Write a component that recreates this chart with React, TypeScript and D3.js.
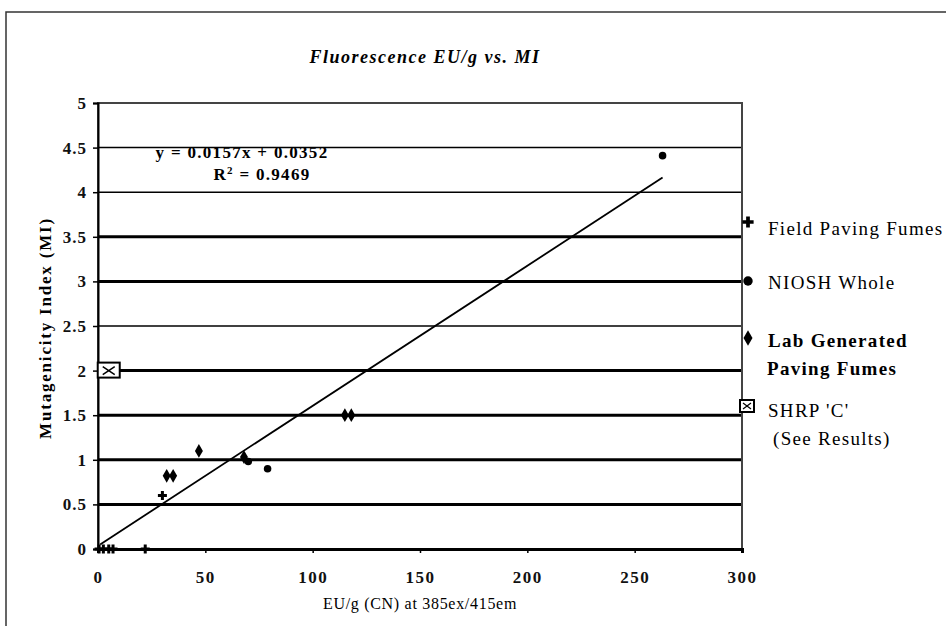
import React, { useEffect, useRef } from "react";
import * as d3 from "d3";

// values
const fieldX = [0.5, 2.5, 5, 7, 22, 30];
const fieldY = [0, 0, 0, 0, 0, 0.6];
const nioshX = [263, 79, 70];
const nioshY = [4.41, 0.9, 0.98];
const labX = [47, 32, 35, 68, 115, 118];
const labY = [1.1, 0.82, 0.82, 1.03, 1.5, 1.5];
const shrpX = [5];
const shrpY = [2];
const slope = 0.0157;
const intercept = 0.0352;
const trendRange = [1, 263];
const yTicks = [0, 0.5, 1, 1.5, 2, 2.5, 3, 3.5, 4, 4.5, 5];
const xTicks = [0, 50, 100, 150, 200, 250, 300];
const thinLines = [2.5, 4, 4.5];
const legendLabels = [
  ["Field Paving Fumes"],
  ["NIOSH Whole"],
  ["Lab Generated", "Paving Fumes"],
  ["SHRP 'C'", "(See Results)"],
];

const W = 946;
const H = 626;
const FONT = "'Liberation Serif', 'DejaVu Serif', serif";

const App = () => {
  const ref = useRef<SVGSVGElement>(null);

  useEffect(() => {
    const svg = d3.select(ref.current);
    svg.selectAll("*").remove();

    const left = 98, right = 742, top = 103, bottom = 549;
    const x = d3.scaleLinear().domain([0, 300]).range([left, right]);
    const y = d3.scaleLinear().domain([0, 5]).range([bottom, top]);

    svg.append("rect").attr("width", W).attr("height", H).attr("fill", "#fff");
    // outer chart frame (runs off the right/bottom edge)
    svg.append("rect")
      .attr("x", 6).attr("y", 12).attr("width", 980).attr("height", 640)
      .attr("fill", "none").attr("stroke", "#333").attr("stroke-width", 1.5);

    svg.append("text")
      .attr("x", 425).attr("y", 63)
      .attr("text-anchor", "middle")
      .style("font-family", FONT).style("font-style", "italic")
      .style("font-size", "18px").style("letter-spacing", "1.5px")
      .style("font-weight", "bold")
      .text("Fluorescence EU/g vs. MI");

    // gridlines
    svg.append("g").selectAll("line")
      .data(yTicks.filter((d) => d > 0 && d < 5))
      .join("line")
      .attr("x1", left).attr("x2", right)
      .attr("y1", (d) => y(d)).attr("y2", (d) => y(d))
      .attr("stroke", "#000")
      .attr("stroke-width", (d) => (thinLines.includes(d) ? 1.5 : 3));

    // plot frame
    svg.append("rect")
      .attr("x", left).attr("y", top)
      .attr("width", right - left).attr("height", bottom - top)
      .attr("fill", "none").attr("stroke", "#444").attr("stroke-width", 2);

    // y axis
    const yAxis = svg.append("g")
      .attr("transform", `translate(${left},0)`)
      .call(d3.axisLeft(y).tickValues(yTicks).tickSize(5).tickFormat(d3.format("")));
    yAxis.select(".domain").attr("stroke", "#000").attr("stroke-width", 2);
    yAxis.selectAll(".tick line").attr("stroke", "#000").attr("stroke-width", 1.5);
    yAxis.selectAll("text")
      .attr("x", -11)
      .style("font-family", FONT).style("font-size", "17px")
      .style("font-weight", "bold").style("letter-spacing", "1px").attr("fill", "#111");

    // x axis
    const xAxis = svg.append("g")
      .attr("transform", `translate(0,${bottom})`)
      .call(d3.axisBottom(x).tickValues(xTicks).tickSize(4));
    xAxis.select(".domain").attr("stroke", "#000").attr("stroke-width", 3);
    xAxis.selectAll(".tick line").attr("stroke", "#000").attr("stroke-width", 1.5);
    xAxis.selectAll("text")
      .attr("y", 22)
      .style("font-family", FONT).style("font-size", "17px")
      .style("font-weight", "bold").style("letter-spacing", "1.5px").attr("fill", "#111");

    // axis titles
    svg.append("text")
      .attr("transform", `translate(51,${(top + bottom) / 2 + 2}) rotate(-90)`)
      .attr("text-anchor", "middle")
      .style("font-family", FONT).style("font-size", "17px")
      .style("font-weight", "bold").style("letter-spacing", "1.8px")
      .text("Mutagenicity Index (MI)");
    svg.append("text")
      .attr("x", 420).attr("y", 609)
      .attr("text-anchor", "middle")
      .style("font-family", FONT).style("font-size", "16px")
      .style("letter-spacing", "0.7px")
      .text("EU/g (CN) at 385ex/415em");

    // trendline
    const trend = trendRange.map((v) => [v, slope * v + intercept] as [number, number]);
    svg.append("path")
      .datum(trend)
      .attr("d", d3.line<[number, number]>().x((d) => x(d[0])).y((d) => y(d[1])))
      .attr("stroke", "#000").attr("stroke-width", 1.8).attr("fill", "none");

    svg.append("text")
      .attr("x", 242).attr("y", 158)
      .attr("text-anchor", "middle")
      .style("font-family", FONT).style("font-size", "17px").style("font-weight", "bold")
      .style("letter-spacing", "1.3px")
      .text("y = 0.0157x + 0.0352");
    const r2 = svg.append("text")
      .attr("x", 262).attr("y", 180)
      .attr("text-anchor", "middle")
      .style("font-family", FONT).style("font-size", "17px").style("font-weight", "bold")
      .style("letter-spacing", "1.3px");
    r2.append("tspan").text("R");
    r2.append("tspan").attr("dy", -6).style("font-size", "11px").text("2");
    r2.append("tspan").attr("dy", 6).text(" = 0.9469");

    const pts = (xs: number[], ys: number[]) => xs.map((v, i) => [v, ys[i]] as [number, number]);

    // markers
    const drawSym = (
      g: d3.Selection<SVGGElement, unknown, null, undefined>,
      data: [number, number][],
      type: d3.SymbolType,
      size: number
    ) =>
      g.selectAll("path.m").data(data).join("path")
        .attr("class", "m")
        .attr("transform", (d) => `translate(${x(d[0])},${y(d[1])})`)
        .attr("d", d3.symbol(type, size)())
        .attr("fill", "#000");

    const marks = svg.append("g");
    drawSym(marks.append("g"), pts(fieldX, fieldY), d3.symbolCross, 45);
    drawSym(marks.append("g"), pts(nioshX, nioshY), d3.symbolCircle, 45);
    drawSym(marks.append("g"), pts(labX, labY), d3.symbolDiamond, 55);
    marks.append("g").selectAll("g").data(pts(shrpX, shrpY)).join("g")
      .attr("transform", (d) => `translate(${x(d[0])},${y(d[1])})`)
      .each(function () {
        const s = d3.select(this);
        s.append("rect").attr("x", -11).attr("y", -8).attr("width", 22).attr("height", 15)
          .attr("fill", "#fff").attr("stroke", "#000").attr("stroke-width", 2);
        s.append("path").attr("d", "M-6,-4L6,4M-6,4L6,-4").attr("stroke", "#000").attr("stroke-width", 1.5);
      });

    // legend
    const legText = [235, 289, 347, 417];
    const legMark = [222, 281, 338, 406];
    const legTypes = [d3.symbolCross, d3.symbolCircle, d3.symbolDiamond, null];
    const legBold = [false, false, true, false];
    const leg = svg.append("g");
    legendLabels.forEach((lines, i) => {
      const t = legTypes[i];
      const my = legMark[i];
      if (t) {
        leg.append("path")
          .attr("transform", `translate(748,${my})`)
          .attr("d", d3.symbol(t, 70)())
          .attr("fill", "#000");
      } else {
        leg.append("rect").attr("x", 740).attr("y", my - 6).attr("width", 14).attr("height", 12)
          .attr("fill", "#fff").attr("stroke", "#000").attr("stroke-width", 2);
        leg.append("path").attr("d", `M743,${my - 3}L751,${my + 3}M743,${my + 3}L751,${my - 3}`)
          .attr("stroke", "#000").attr("stroke-width", 1.2);
      }
      lines.forEach((line, j) => {
        leg.append("text")
          .attr("x", j === 0 ? 768 : i === 3 ? 773 : 767)
          .attr("y", legText[i] + j * 28)
          .style("font-family", FONT).style("font-size", "19px")
          .style("letter-spacing", "1.3px")
          .style("font-weight", legBold[i] ? "bold" : "normal")
          .text(line);
      });
    });
  }, []);

  return (
    <svg ref={ref} width={W} height={H} style={{ position: "absolute", left: 0, top: 0 }} />
  );
};

export default App;
